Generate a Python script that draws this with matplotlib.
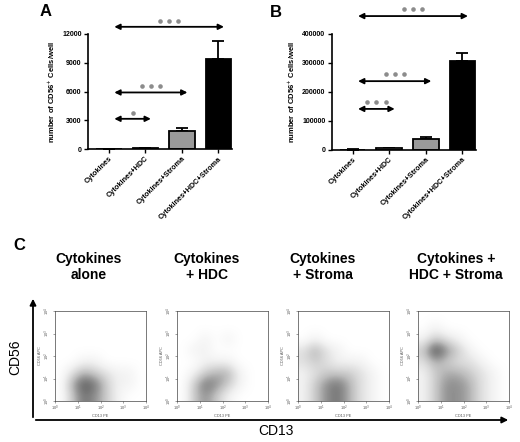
import numpy as np
import matplotlib
matplotlib.use("Agg")
import matplotlib.pyplot as plt
from matplotlib.transforms import offset_copy

plt.rcParams['font.family'] = ['Liberation Sans', 'DejaVu Sans']

# ---------------- data ----------------
groups = ["Cytokines", "Cytokines+HDC", "Cytokines+Stroma", "Cytokines+HDC+Stroma"]
bar_colors = ["white", "white", "#9a9a9a", "black"]

a_means = [20, 100, 1900, 9350]
a_err = [10, 30, 300, 1900]
a_yticks = [0, 3000, 6000, 9000, 12000]
a_comparisons = [(0, 1), (0, 2), (0, 3)]
a_comp_levels = [3150, 5900, 12750]
a_comp_stars = ["*", "***", "***"]

b_means = [500, 6000, 38000, 308000]
b_err = [200, 1500, 7000, 25000]
b_yticks = [0, 100000, 200000, 300000, 400000]
b_comparisons = [(0, 1), (0, 2), (0, 3)]
b_comp_levels = [141000, 237000, 462000]
b_comp_stars = ["***", "***", "***"]

flow_titles = ["Cytokines\nalone", "Cytokines\n+ HDC", "Cytokines\n+ Stroma", "Cytokines +\nHDC + Stroma"]
# density grids (rows: CD56 log-decade bins bottom->top, 0.5 decade each; cols: CD13 bins)
flow_cyt = [
    [0, 3, 6, 5, 3, 1, 0, 0],
    [0, 4, 7, 6, 3, 1, 1, 0],
    [0, 2, 4, 3, 2, 1, 1, 0],
    [0, 0, 1, 1, 0, 0, 0, 0],
    [0, 0, 0, 0, 0, 0, 0, 0],
    [0, 0, 0, 0, 0, 0, 0, 0],
    [0, 0, 0, 0, 0, 0, 0, 0],
    [0, 0, 0, 0, 0, 0, 0, 0],
]
flow_hdc = [
    [0, 3, 5, 3, 1, 0, 0, 0],
    [0, 3, 6, 5, 3, 1, 0, 0],
    [0, 1, 3, 4, 4, 1, 0, 0],
    [0, 0, 1, 1, 1, 0, 0, 0],
    [0, 1, 1, 0, 0, 0, 0, 0],
    [0, 0, 1, 0, 1, 0, 0, 0],
    [0, 0, 0, 0, 0, 0, 0, 0],
    [0, 0, 0, 0, 0, 0, 0, 0],
]
flow_stroma = [
    [1, 3, 5, 6, 4, 2, 1, 0],
    [1, 3, 5, 6, 4, 2, 1, 0],
    [1, 2, 3, 3, 3, 2, 1, 0],
    [2, 3, 2, 1, 1, 1, 0, 0],
    [2, 4, 2, 1, 0, 0, 0, 0],
    [0, 1, 0, 0, 0, 0, 0, 0],
    [0, 0, 0, 0, 0, 0, 0, 0],
    [0, 0, 0, 0, 0, 0, 0, 0],
]
flow_hdc_stroma = [
    [1, 3, 5, 5, 4, 2, 1, 0],
    [1, 3, 5, 5, 4, 2, 1, 0],
    [1, 3, 4, 4, 3, 2, 1, 0],
    [2, 4, 3, 2, 2, 1, 0, 0],
    [3, 8, 5, 3, 1, 0, 0, 0],
    [1, 3, 2, 1, 0, 0, 0, 0],
    [0, 1, 0, 0, 0, 0, 0, 0],
    [0, 0, 0, 0, 0, 0, 0, 0],
]
flow_grids = [flow_cyt, flow_hdc, flow_stroma, flow_hdc_stroma]
flow_ticklabels = ["10$^0$", "10$^1$", "10$^2$", "10$^3$", "10$^4$"]

# ---------------- figure ----------------
W, H = 520, 442
fig = plt.figure(figsize=(W / 100, H / 100), dpi=100)

def fx(px):
    return px / W

def fy(py):
    return 1 - py / H


def bar_panel(rect, means, errs, yticks, comps, levels, stars, star_gap):
    ax = fig.add_axes(rect)
    x = np.arange(len(groups))
    ax.bar(x, means, width=0.7, color=bar_colors, edgecolor="black", linewidth=1.3, zorder=2)
    ax.errorbar(x, means, yerr=[np.zeros(len(errs)), errs], fmt="none", ecolor="black",
                elinewidth=1.3, capsize=4.5, capthick=1.3, zorder=1)
    ax.set_xlim(-0.57, 3.37)
    ax.set_ylim(0, yticks[-1])
    ax.set_yticks(yticks)
    ax.set_yticklabels([str(t) for t in yticks], fontsize=5, fontweight="bold")
    ax.set_xticks(x)
    ax.set_xticklabels(groups, rotation=45, ha="right", va="top", rotation_mode="anchor",
                       fontsize=5.3, fontweight="bold")
    ax.spines["top"].set_visible(False)
    ax.spines["right"].set_visible(False)
    ax.spines["left"].set_linewidth(1.2)
    ax.spines["bottom"].set_linewidth(1.2)
    ax.tick_params(axis="both", direction="out", length=3, width=1.0, pad=1.5)
    ax.set_ylabel("number of CD56$^{+}$ Cells/well", fontsize=5.5, fontweight="bold", labelpad=4)
    star_tr = offset_copy(ax.transData, fig=fig, x=0, y=star_gap, units="points")
    for (i, j), lev, st in zip(comps, levels, stars):
        x0, x1 = i + 0.15, j + 0.15
        ax.annotate("", xy=(x1, lev), xytext=(x0, lev),
                    arrowprops=dict(arrowstyle="<|-|>", color="black", lw=1.3,
                                    mutation_scale=8, shrinkA=0, shrinkB=0),
                    annotation_clip=False)
        n = len(st)
        mid = (x0 + x1) / 2
        xs = mid + (np.arange(n) - (n - 1) / 2) * 0.25
        ax.plot(xs, [lev] * n, "o", color="#8c8c8c", markersize=3.3, markeredgewidth=0,
                clip_on=False, transform=star_tr, zorder=3)
    return ax


axA = bar_panel([fx(88), fy(149), fx(144), (149 - 34) / H], a_means, a_err, a_yticks,
                a_comparisons, a_comp_levels, a_comp_stars, 4.5)
axB = bar_panel([fx(331.7), fy(149.7), fx(144.3), (149.7 - 34) / H], b_means, b_err, b_yticks,
                b_comparisons, b_comp_levels, b_comp_stars, 5)

fig.text(fx(46), fy(12), "A", fontsize=12, fontweight="bold", ha="center", va="center")
fig.text(fx(276), fy(12.5), "B", fontsize=12, fontweight="bold", ha="center", va="center")
fig.text(fx(19), fy(245), "C", fontsize=12, fontweight="bold", ha="center", va="center")

# ---------------- panel C ----------------
flow_lefts = [55, 177, 298, 418]
title_x = [89, 207, 323, 456]
for k, grid in enumerate(flow_grids):
    ax = fig.add_axes([fx(flow_lefts[k]), fy(401), fx(91), (401 - 311) / H])
    g = np.array(grid, dtype=float)
    ax.imshow(g, origin="lower", extent=(0, 4, 0, 4), cmap="Greys", vmin=0, vmax=9.5,
              interpolation="bicubic", aspect="auto")
    ax.set_xlim(0, 4)
    ax.set_ylim(0, 4)
    ax.set_xticks(range(5))
    ax.set_yticks(range(5))
    ax.set_xticklabels(flow_ticklabels, fontsize=2.8, color="#555555")
    ax.set_yticklabels(flow_ticklabels, fontsize=2.8, color="#555555", rotation=90, va="center")
    ax.tick_params(length=1.5, width=0.4, pad=0.8, colors="#555555")
    ax.set_xlabel("CD13 PE", fontsize=2.8, color="#555555", labelpad=0.5)
    ax.set_ylabel("CD56 APC", fontsize=2.8, color="#555555", labelpad=0.5)
    for s in ax.spines.values():
        s.set_linewidth(0.5)
        s.set_color("#444444")
    fig.text(fx(title_x[k]), fy(267), flow_titles[k], fontsize=10, fontweight="bold",
             ha="center", va="center", linespacing=1.15)

# big axes arrows
fig.add_artist(matplotlib.patches.FancyArrowPatch(
    (fx(33), fy(420)), (fx(33), fy(296)), transform=fig.transFigure,
    arrowstyle="-|>", mutation_scale=9, lw=1.3, color="black"))
fig.add_artist(matplotlib.patches.FancyArrowPatch(
    (fx(33), fy(420)), (fx(511), fy(420)), transform=fig.transFigure,
    arrowstyle="-|>", mutation_scale=9, lw=1.3, color="black"))
fig.text(fx(15), fy(357), "CD56", fontsize=10, rotation=90, ha="center", va="center")
fig.text(fx(276), fy(431), "CD13", fontsize=10, ha="center", va="center")

fig.savefig("out.png", dpi=100)
